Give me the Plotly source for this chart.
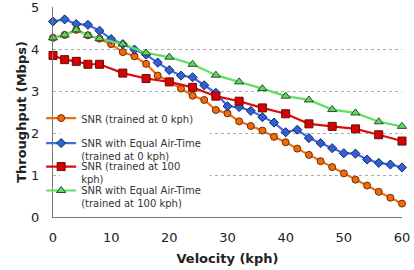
import plotly.graph_objects as go

velocity_fine = list(range(0, 61, 2))
velocity_coarse = [0, 2, 4, 6, 8, 12, 16, 20, 24, 28, 32, 36, 40, 44, 48, 52, 56, 60]

snr_0kph = [4.27, 4.34, 4.46, 4.33, 4.25, 4.12, 3.93, 3.83, 3.65, 3.37, 3.23, 3.06,
            2.89, 2.79, 2.55, 2.47, 2.28, 2.17, 2.06, 1.91, 1.78, 1.63, 1.48, 1.33,
            1.19, 1.04, 0.89, 0.75, 0.60, 0.46, 0.32]
snr_eat_0kph = [4.66, 4.71, 4.60, 4.58, 4.44, 4.24, 4.12, 3.99, 3.87, 3.68, 3.50, 3.37,
                3.33, 3.14, 2.96, 2.64, 2.62, 2.53, 2.38, 2.25, 2.02, 2.08, 1.88, 1.76,
                1.64, 1.52, 1.51, 1.37, 1.29, 1.25, 1.18]
snr_100kph = [3.85, 3.75, 3.71, 3.64, 3.64, 3.43, 3.30, 3.22, 3.09, 2.88, 2.76, 2.60,
              2.46, 2.22, 2.16, 2.10, 1.96, 1.81]
snr_eat_100kph = [4.27, 4.34, 4.46, 4.33, 4.25, 4.12, 3.91, 3.81, 3.64, 3.38, 3.22, 3.06,
                  2.88, 2.79, 2.56, 2.48, 2.27, 2.16]

names = ["SNR (trained at 0 kph)",
         "SNR with Equal Air-Time<br>(trained at 0 kph)",
         "SNR (trained at 100<br>kph)",
         "SNR with Equal Air-Time<br>(trained at 100 kph)"]

fig = go.Figure()
fig.add_trace(go.Scatter(x=velocity_fine, y=snr_0kph, name=names[0], mode="lines+markers",
                         line=dict(color="#F26A10", width=2.2), legend="legend",
                         marker=dict(symbol="circle", size=7, color="#F26A10",
                                     line=dict(color="#6a3000", width=1)), cliponaxis=False))
fig.add_trace(go.Scatter(x=velocity_fine, y=snr_eat_0kph, name=names[1], mode="lines+markers",
                         line=dict(color="#3A6BE8", width=2.2), legend="legend2",
                         marker=dict(symbol="diamond", size=7, color="#2F60D8",
                                     line=dict(color="#1a2a55", width=1)), cliponaxis=False))
fig.add_trace(go.Scatter(x=velocity_coarse, y=snr_100kph, name=names[2], mode="lines+markers",
                         line=dict(color="#DD0A0A", width=2.2), legend="legend3",
                         marker=dict(symbol="square", size=8, color="#DD0000",
                                     line=dict(color="#5a1010", width=1)), cliponaxis=False))
fig.add_trace(go.Scatter(x=velocity_coarse, y=snr_eat_100kph, name=names[3], mode="lines+markers",
                         line=dict(color="#60E060", width=2.2), legend="legend4",
                         marker=dict(symbol="triangle-up", size=8, color="#5FD85F",
                                     line=dict(color="#2a4a2a", width=1)), cliponaxis=False))

fig.add_shape(type="rect", xref="paper", yref="paper", x0=0.02, x1=0.45, y0=0.02, y1=0.48,
              fillcolor="#ffffff", opacity=1, line=dict(width=0), layer="above")

def leg(y):
    return dict(x=-0.034, y=y, xanchor="left", yanchor="top", valign="top",
                bgcolor="rgba(0,0,0,0)", font=dict(family="DejaVu Sans", size=10, color="#333"),
                itemwidth=30)

fig.update_layout(
    width=414, height=270,
    margin=dict(l=53, r=12, t=7, b=53, autoexpand=False),
    paper_bgcolor="white", plot_bgcolor="white",
    font=dict(family="DejaVu Sans", size=13, color="#222"),
    showlegend=True,
    legend=leg(0.533), legend2=leg(0.414), legend3=leg(0.302), legend4=leg(0.188),
    xaxis=dict(range=[0, 60], tickvals=[0, 10, 20, 30, 40, 50, 60], automargin=False,
               showgrid=False, zeroline=False, showline=True, linecolor="#777", linewidth=1,
               ticks="", ticklabelstandoff=8, ticklabeloverflow="allow",
               title=dict(text="<b>Velocity (kph)</b>", standoff=10, font=dict(size=13))),
    yaxis=dict(range=[0, 5.005], tickvals=[0, 1, 2, 3, 4, 5], automargin=False,
               showgrid=True, gridcolor="#aaa", griddash="dot", gridwidth=1,
               zeroline=False, showline=True, linecolor="#777", linewidth=1,
               ticks="", ticklabelstandoff=10, ticklabeloverflow="allow",
               title=dict(text="<b>Throughput (Mbps)</b>", standoff=1, font=dict(size=13))),
)

fig.write_html("out.html", config={"displayModeBar": False},
               post_script="document.body.style.margin='0px';")
